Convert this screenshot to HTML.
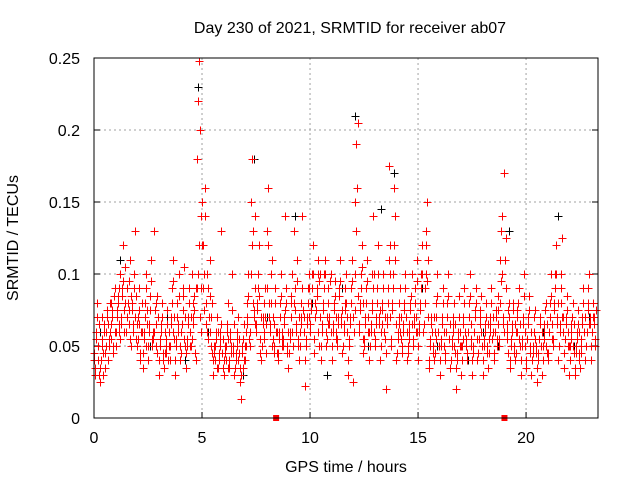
<!DOCTYPE html>
<html><head><meta charset="utf-8"><style>
body{margin:0;background:#fff;}
svg{display:block;font-family:"Liberation Sans",sans-serif;}
</style></head><body>
<svg id="c" width="640" height="480"></svg>
<script>
const binStarts=[0,0.25,0.5,0.75,1,1.25,1.5,1.75,2,2.25,2.5,2.75,3,3.25,3.5,3.75,4,4.25,4.5,4.75,5,5.25,5.5,5.75,6,6.25,6.5,6.75,7,7.25,7.5,7.75,8,8.25,8.5,8.75,9,9.25,9.5,9.75,10,10.25,10.5,10.75,11,11.25,11.5,11.75,12,12.25,12.5,12.75,13,13.25,13.5,13.75,14,14.25,14.5,14.75,15,15.25,15.5,15.75,16,16.25,16.5,16.75,17,17.25,17.5,17.75,18,18.25,18.5,18.75,19,19.25,19.5,19.75,20,20.25,20.5,20.75,21,21.25,21.5,21.75,22,22.25,22.5,22.75,23];
const redValues=[
[.04,.03,.06,.08,.05],[.03,.025,.07,.045,.06],[.035,.05,.075,.065,.055],[.06,.08,.07,.045,.09],[.05,.07,.085,.06,.1],
[.07,.09,.12,.06,.08],[.06,.09,.075,.11,.05],[.08,.065,.1,.13,.055],[.05,.07,.09,.04,.06],[.035,.055,.08,.1,.065],
[.04,.06,.085,.11,.05],[.055,.13,.08,.045,.07],[.03,.05,.065,.08,.04],[.035,.06,.045,.075,.05],[.04,.07,.09,.11,.055],
[.03,.05,.08,.065,.1],[.04,.06,.085,.105,.05],[.035,.05,.07,.09,.06],[.05,.1,.07,.085,.04],[.18,.22,.248,.2,.09],
[.15,.12,.1,.16,.08],[.06,.09,.11,.07,.045],[.03,.05,.04,.06,.07],[.035,.045,.06,.13,.055],[.03,.05,.04,.065,.08],
[.035,.06,.045,.1,.05],[.03,.04,.055,.07,.045],[.025,.013,.05,.035,.065],[.04,.06,.08,.1,.05],[.15,.18,.13,.07,.09],
[.06,.08,.1,.12,.045],[.04,.07,.055,.09,.065],[.13,.16,.08,.06,.1],[.05,.07,.045,.09,.06],[.04,.06,.08,.1,.055],
[.05,.07,.14,.09,.045],[.035,.06,.08,.1,.05],[.13,.09,.065,.11,.05],[.04,.06,.08,.14,.07],[.022,.05,.07,.09,.1],
[.06,.08,.1,.12,.045],[.07,.09,.11,.05,.1],[.04,.06,.08,.1,.11],[.05,.07,.09,.065,.1],[.04,.06,.08,.095,.055],
[.05,.07,.09,.11,.065],[.045,.06,.08,.1,.07],[.03,.05,.07,.09,.11],[.025,.06,.15,.19,.205],[.06,.08,.1,.12,.045],
[.05,.07,.09,.11,.06],[.04,.06,.08,.14,.1],[.05,.07,.09,.12,.065],[.04,.06,.08,.1,.055],[.02,.07,.09,.175,.12],
[.05,.08,.1,.16,.14],[.04,.06,.07,.09,.055],[.045,.06,.08,.1,.07],[.04,.05,.065,.08,.1],[.05,.07,.09,.06,.11],
[.04,.06,.08,.1,.12],[.06,.09,.13,.15,.11],[.035,.05,.07,.06,.045],[.04,.06,.08,.1,.05],[.03,.05,.07,.09,.06],
[.04,.06,.08,.1,.055],[.035,.05,.065,.08,.045],[.02,.04,.06,.085,.05],[.03,.05,.07,.09,.055],[.04,.06,.08,.1,.05],
[.03,.045,.06,.075,.09],[.04,.055,.07,.085,.05],[.03,.05,.065,.08,.045],[.035,.055,.07,.09,.06],[.04,.06,.075,.05,.085],
[.05,.11,.13,.14,.07],[.17,.125,.06,.045,.08],[.035,.05,.065,.08,.045],[.04,.06,.075,.09,.05],[.03,.05,.07,.1,.06],
[.035,.055,.07,.085,.045],[.03,.045,.06,.075,.05],[.025,.04,.055,.07,.05],[.03,.05,.065,.08,.045],[.04,.06,.08,.1,.055],
[.05,.08,.1,.12,.07],[.04,.06,.09,.125,.07],[.035,.055,.07,.085,.05],[.03,.05,.065,.08,.045],[.03,.045,.06,.075,.04],
[.035,.05,.07,.09,.06],[.04,.06,.08,.1,.065],[.04,.06,.08,.07,.05]];
const redValues2=[
[.045,.035,.055,.07,.04,.065],[.035,.04,.055,.05,.03,.065],[.045,.06,.07,.04,.05,.08],[.055,.065,.075,.05,.085,.06],[.06,.075,.08,.065,.09,.055],
[.065,.085,.095,.075,.105,.06],[.07,.08,.065,.095,.055,.085],[.075,.06,.09,.07,.085,.065],[.055,.065,.075,.045,.06,.08],[.045,.06,.07,.09,.05,.075],
[.05,.065,.075,.095,.055,.06],[.06,.075,.065,.05,.085,.07],[.04,.055,.06,.07,.045,.035],[.045,.05,.055,.065,.04,.06],[.05,.065,.08,.095,.06,.07],
[.04,.055,.07,.06,.085,.05],[.045,.065,.075,.09,.055,.07],[.045,.055,.065,.08,.05,.07],[.055,.08,.065,.075,.045,.09],[.09,.1,.12,.07,.14,.06],
[.12,.09,.075,.14,.065,.1],[.055,.07,.085,.06,.05,.08],[.04,.045,.05,.055,.035,.06],[.04,.05,.055,.065,.045,.035],[.04,.045,.05,.06,.035,.055],
[.04,.055,.05,.075,.045,.065],[.035,.045,.05,.06,.04,.055],[.035,.03,.045,.055,.04,.05],[.05,.065,.07,.085,.055,.06],[.1,.12,.08,.075,.065,.14],
[.065,.075,.09,.085,.055,.07],[.05,.065,.06,.08,.07,.045],[.09,.12,.07,.065,.08,.11],[.055,.065,.05,.08,.06,.045],[.045,.055,.07,.085,.06,.05],
[.055,.065,.075,.08,.05,.06],[.045,.055,.07,.085,.06,.05],[.08,.075,.06,.095,.055,.07],[.05,.065,.07,.09,.075,.06],[.04,.055,.065,.08,.09,.07],
[.065,.075,.09,.1,.055,.08],[.075,.085,.1,.06,.095,.07],[.05,.065,.075,.09,.1,.06],[.055,.065,.08,.07,.095,.06],[.05,.065,.075,.085,.06,.07],
[.055,.065,.085,.095,.07,.075],[.05,.065,.075,.09,.08,.06],[.04,.055,.065,.08,.095,.07],[.06,.075,.1,.13,.16,.085],[.065,.075,.09,.105,.055,.08],
[.055,.065,.08,.095,.07,.06],[.05,.065,.075,.1,.09,.06],[.055,.065,.08,.1,.07,.075],[.05,.065,.075,.09,.06,.07],[.045,.065,.08,.11,.1,.07],
[.055,.075,.09,.12,.11,.065],[.045,.055,.065,.08,.06,.07],[.05,.065,.075,.09,.07,.06],[.045,.055,.06,.075,.085,.065],[.055,.065,.08,.07,.095,.06],
[.05,.065,.075,.09,.1,.06],[.065,.08,.1,.12,.095,.07],[.04,.055,.065,.06,.05,.07],[.045,.055,.07,.085,.06,.05],[.04,.055,.065,.08,.06,.05],
[.045,.06,.07,.085,.055,.065],[.04,.055,.06,.07,.05,.065],[.035,.045,.055,.07,.06,.05],[.04,.055,.065,.08,.06,.05],[.045,.06,.07,.085,.055,.065],
[.04,.05,.06,.07,.08,.055],[.045,.055,.065,.075,.06,.05],[.04,.055,.06,.07,.05,.065],[.045,.06,.065,.08,.055,.07],[.045,.06,.07,.055,.075,.065],
[.055,.08,.095,.1,.065,.06],[.11,.09,.065,.055,.075,.07],[.04,.055,.06,.075,.05,.065],[.045,.06,.07,.08,.055,.065],[.04,.055,.065,.085,.06,.05],
[.04,.055,.065,.075,.05,.06],[.04,.05,.06,.07,.055,.045],[.035,.045,.055,.065,.05,.06],[.04,.055,.06,.075,.05,.065],[.045,.06,.07,.085,.055,.065],
[.055,.075,.09,.1,.065,.08],[.05,.065,.08,.1,.07,.06],[.045,.055,.065,.075,.06,.05],[.04,.055,.06,.07,.05,.065],[.035,.05,.055,.065,.045,.06],
[.045,.055,.065,.08,.06,.07],[.05,.06,.075,.09,.065,.07],[.05,.06,.07,.065,.055,.075]];
const blackTimes=[0.3,1.2,1.9,2.6,3.4,4.2,4.8,5.3,6.1,6.9,7.4,8.0,8.7,9.3,10.1,10.8,11.5,12.1,12.7,13.3,13.9,14.6,15.2,15.9,16.6,17.3,18.0,18.7,19.2,20.0,20.8,21.5,22.2,22.9];
const blackValues=[.06,.11,.13,.05,.07,.04,.23,.06,.05,.03,.18,.07,.06,.14,.08,.03,.09,.21,.05,.145,.17,.06,.09,.05,.07,.04,.06,.05,.13,.04,.06,.14,.05,.07];
const markerTimes=[8.43,19.0];
const xTicks=[0,5,10,15,20];
const yTicks=[0,0.05,0.1,0.15,0.2,0.25];
const yTickLabels=["0","0.05","0.1","0.15","0.2","0.25"];

const L=94,R=598,T=58,B=418,XMAX=23.33,YMAX=0.25;
const sx=t=>L+t/XMAX*(R-L), sy=v=>B-v/YMAX*(B-T);
const svg=document.getElementById('c'),NS='http://www.w3.org/2000/svg';
function mk(tag,a,p){const e=document.createElementNS(NS,tag);for(const k in a)e.setAttribute(k,a[k]);(p||svg).appendChild(e);return e;}
const grid=mk('g',{});


xTicks.forEach(t=>{const x=sx(t);
 if(t>0)mk('line',{x1:x,x2:x,y1:T,y2:B,stroke:'#a0a0a0','stroke-dasharray':'2,3'},grid);
 mk('line',{x1:x,x2:x,y1:B,y2:B-6,stroke:'#000'},grid);
 const tx=mk('text',{x:x,y:443,'text-anchor':'middle','font-size':16});tx.textContent=t;
 
 });
yTicks.forEach((v,i)=>{const y=sy(v);
 if(v>0)mk('line',{x1:L,x2:R,y1:y,y2:y,stroke:'#a0a0a0','stroke-dasharray':'2,3'},grid);
 mk('line',{x1:L,x2:L+6,y1:y,y2:y,stroke:'#000'},grid);
 mk('line',{x1:R,x2:R-6,y1:y,y2:y,stroke:'#000'},grid);
 const tx=mk('text',{x:80,y:y+6,'text-anchor':'end','font-size':16});tx.textContent=yTickLabels[i];
 
 });
function plus(g,t,v,c){const x=Math.round(sx(t))+0.5,y=Math.round(sy(v))+0.5;
 mk('path',{d:`M${x-4},${y}H${x+4}M${x},${y-4}V${y+4}`,stroke:c,'stroke-width':1},g);}
const bg=mk('g',{});


blackTimes.forEach((t,i)=>plus(bg,t,blackValues[i],'#000'));
const rg=mk('g',{});


binStarts.forEach((b,i)=>redValues[i].forEach((v,j)=>plus(rg,b+j*0.05,v,'#ff0000')));
binStarts.forEach((b,i)=>redValues2[i].forEach((v,j)=>plus(rg,b+0.02+j*0.04,v,'#ff0000')));
markerTimes.forEach(t=>{const m=mk('rect',{x:sx(t)-3,y:B-3,width:6,height:6,fill:'#ff0000'});
 
 });
const fr=mk('rect',{x:L,y:T,width:R-L,height:B-T,fill:'none',stroke:'#000'});


const ti=mk('text',{x:350,y:33,'text-anchor':'middle','font-size':16});ti.textContent='Day 230 of 2021, SRMTID for receiver ab07';


const xl=mk('text',{x:346,y:472,'text-anchor':'middle','font-size':16});xl.textContent='GPS time / hours';


const yl=mk('text',{x:0,y:0,'text-anchor':'middle','font-size':16,transform:'translate(18,238) rotate(-90)'});yl.textContent='SRMTID / TECUs';


</script>
</body></html>
